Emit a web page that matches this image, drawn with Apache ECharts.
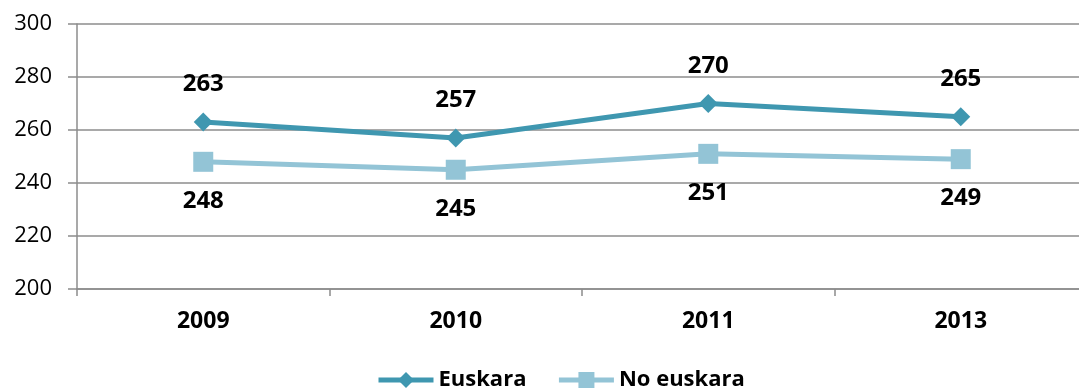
<!DOCTYPE html>
<html>
<head>
<meta charset="utf-8">
<script src="https://cdn.jsdelivr.net/npm/echarts@6/dist/echarts.min.js"></script>
<style>
  html, body { margin: 0; padding: 0; background: #fff; overflow: hidden; }
  #chart { width: 1087px; height: 390px; }
</style>
</head>
<body>
<div id="chart"></div>
<script>
// Years on the category axis
const years = ['2009', '2010', '2011', '2013'];
// Average scores by home language
const euskara = [263, 257, 270, 265];
const noEuskara = [248, 245, 251, 249];
// Value axis range
const yMin = 200;
const yMax = 300;
const yStep = 20;

const font = '"Open Sans", "Noto Sans", sans-serif';
const gridGray = '#8c8c8c';

const chart = echarts.init(document.getElementById('chart'));
chart.setOption({
  animation: false,
  textStyle: { fontFamily: font },
  grid: { left: 77, right: 0, top: 24, bottom: 101, containLabel: false },
  legend: {
    top: 364,
    left: 371,
    itemWidth: 55,
    itemHeight: 20,
    itemGap: 30,
    lineStyle: { width: 5 },
    textStyle: { fontFamily: font, fontSize: 22, fontWeight: 'bold', color: '#000' },
    data: ['Euskara', 'No euskara']
  },
  xAxis: {
    type: 'category',
    data: years,
    boundaryGap: true,
    axisLine: { lineStyle: { color: gridGray, width: 1.5 } },
    axisTick: { show: true, length: 7, lineStyle: { color: gridGray, width: 1.5 } },
    axisLabel: { fontFamily: font, fontSize: 23, fontWeight: 'bold', color: '#000', margin: 21 }
  },
  yAxis: {
    type: 'value',
    min: yMin,
    max: yMax,
    interval: yStep,
    axisLine: { show: true, lineStyle: { color: gridGray, width: 1.5 } },
    axisTick: { show: true, length: 9, lineStyle: { color: gridGray, width: 1.5 } },
    splitLine: { lineStyle: { color: gridGray, width: 1.5 } },
    axisLabel: { fontFamily: font, fontSize: 22, color: '#000', margin: 25 }
  },
  series: [
    {
      name: 'Euskara',
      type: 'line',
      data: euskara,
      symbol: 'diamond',
      symbolSize: 19,
      itemStyle: { color: '#3f97b0' },
      lineStyle: { color: '#3f97b0', width: 5 },
      label: {
        show: true,
        position: 'top',
        distance: 16,
        fontFamily: font,
        fontSize: 24,
        fontWeight: 'bold',
        color: '#000'
      },
      z: 3
    },
    {
      name: 'No euskara',
      type: 'line',
      data: noEuskara,
      symbol: 'rect',
      symbolSize: 20,
      itemStyle: { color: '#93c4d6' },
      lineStyle: { color: '#93c4d6', width: 5 },
      label: {
        show: true,
        position: 'bottom',
        distance: 17,
        fontFamily: font,
        fontSize: 24,
        fontWeight: 'bold',
        color: '#000'
      },
      z: 2
    }
  ]
});
</script>
</body>
</html>
